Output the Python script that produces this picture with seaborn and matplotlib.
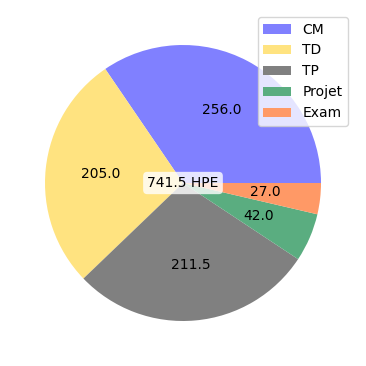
import matplotlib
matplotlib.use("Agg")
import matplotlib.pyplot as plt
import seaborn as sns

categories = ["CM", "TD", "TP", "Projet", "Exam"]
hours = [256.0, 205.0, 211.5, 42.0, 27.0]
colors = ["#8080ff", "#ffe380", "#808080", "#5aad80", "#ff9966"]

sns.set_style("white")
plt.rcParams['font.family'] = ['DejaVu Sans']
plt.rcParams['text.color'] = 'black'

fig = plt.figure(figsize=(3.66, 3.66), dpi=100)
ax = fig.add_axes([0.0287, 0.0287, 0.9426, 0.9426])
total = sum(hours)
wedges, texts, autotexts = ax.pie(
    hours, colors=colors,
    autopct=lambda p: f"{p * total / 100:.1f}",
    startangle=0, counterclock=True,
    wedgeprops=dict(linewidth=0, edgecolor="none"),
)
ax.text(0, 0, f"{total:.1f} HPE", ha="center", va="center", fontsize=10,
        bbox=dict(boxstyle="round", fc="white", ec="none", alpha=0.8))
ax.legend(wedges, categories, loc="upper right",
          bbox_to_anchor=(355 / 366, 1 - 10 / 366), bbox_transform=fig.transFigure)
ax.set_aspect("equal")
fig.savefig("out.png", dpi=100)
